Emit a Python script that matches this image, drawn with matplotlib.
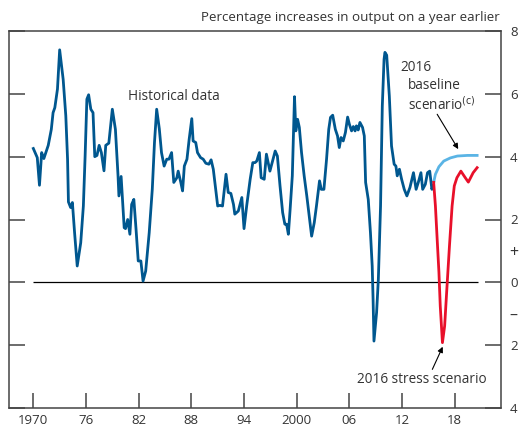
import numpy as np
import matplotlib
matplotlib.use("Agg")
import matplotlib.pyplot as plt
from matplotlib.ticker import FixedLocator, FixedFormatter

# ------------------------------------------
# data
# ------------------------------------------
hist_years = [1970.0, 1970.45, 1970.7, 1970.95, 1971.2, 1971.7, 1972.05, 1972.25, 1972.45, 1972.75,
              1973.0, 1973.4, 1973.7, 1973.9, 1974.0, 1974.25, 1974.45, 1974.7, 1975.0, 1975.4,
              1975.7, 1975.9, 1976.1, 1976.3, 1976.55, 1976.8, 1977.0, 1977.25, 1977.5, 1977.75,
              1978.05, 1978.25, 1978.6, 1979.0, 1979.35, 1979.65, 1979.75, 1980.0, 1980.35, 1980.5,
              1980.75, 1981.0, 1981.2, 1981.45, 1981.7, 1981.95, 1982.25, 1982.5, 1982.8, 1983.2,
              1983.55, 1983.8, 1984.05, 1984.35, 1984.6, 1984.9, 1985.2, 1985.45, 1985.75, 1986.0,
              1986.35, 1986.5, 1986.8, 1987.0, 1987.2, 1987.5, 1987.75, 1988.05, 1988.2, 1988.5,
              1988.7, 1989.05, 1989.35, 1989.65, 1990.0, 1990.25, 1990.5, 1990.75, 1991.0, 1991.25,
              1991.55, 1991.95, 1992.2, 1992.5, 1992.8, 1992.95, 1993.35, 1993.75, 1994.0, 1994.3,
              1994.7, 1995.0, 1995.25, 1995.45, 1995.75, 1995.95, 1996.3, 1996.55, 1996.75, 1996.95,
              1997.25, 1997.55, 1997.8, 1998.1, 1998.4, 1998.65, 1998.85, 1999.05, 1999.25, 1999.5,
              1999.75, 1999.9, 2000.1, 2000.3, 2000.55, 2000.85, 2001.15, 2001.45, 2001.7, 2002.0,
              2002.25, 2002.6, 2002.8, 2003.1, 2003.4, 2003.65, 2003.85, 2004.1, 2004.4, 2004.65,
              2004.85, 2005.05, 2005.3, 2005.55, 2005.8, 2006.0, 2006.25, 2006.45, 2006.65, 2006.8,
              2007.0, 2007.2, 2007.5, 2007.7, 2007.85, 2008.15, 2008.4, 2008.6, 2008.7, 2008.8,
              2009.1, 2009.3, 2009.55, 2009.75, 2009.95, 2010.05, 2010.25, 2010.55, 2010.8, 2011.1,
              2011.3, 2011.45, 2011.7, 2011.95, 2012.25, 2012.55, 2012.9, 2013.3, 2013.6, 2013.85,
              2014.15, 2014.35, 2014.65, 2014.9, 2015.15, 2015.4, 2015.6]
hist_values = [4.26, 3.97, 3.09, 4.13, 3.94, 4.36, 4.87, 5.40, 5.56, 6.15,
               7.40, 6.46, 5.30, 3.92, 2.56, 2.38, 2.54, 1.58, 0.52, 1.26,
               2.43, 4.02, 5.83, 5.97, 5.51, 5.40, 4.00, 4.04, 4.36, 4.13,
               3.55, 4.36, 4.43, 5.51, 4.87, 3.39, 2.75, 3.37, 1.74, 1.71,
               2.00, 1.53, 2.48, 2.64, 1.69, 0.68, 0.68, 0.04, 0.36, 1.58,
               2.96, 4.45, 5.51, 4.89, 4.13, 3.70, 3.92, 3.92, 4.13, 3.18,
               3.33, 3.54, 3.18, 2.91, 3.70, 3.92, 4.55, 5.21, 4.50, 4.45,
               4.13, 3.97, 3.92, 3.79, 3.76, 3.90, 3.60, 3.02, 2.43, 2.45,
               2.43, 3.44, 2.86, 2.83, 2.48, 2.17, 2.27, 2.70, 1.71, 2.43,
               3.28, 3.81, 3.81, 3.86, 4.13, 3.33, 3.28, 4.08, 3.81, 3.54,
               3.86, 4.18, 4.02, 3.07, 2.22, 1.85, 1.85, 1.53, 2.32, 3.39,
               5.91, 4.82, 5.19, 4.93, 4.13, 3.39, 2.75, 2.06, 1.47, 1.90,
               2.43, 3.23, 2.96, 2.96, 3.92, 4.87, 5.25, 5.32, 4.87, 4.66,
               4.29, 4.61, 4.50, 4.77, 5.26, 5.03, 4.82, 4.96, 4.82, 4.98,
               4.85, 5.09, 4.93, 4.66, 3.18, 2.64, 1.58, 0.52, -0.54, -1.87,
               -0.96, 0.10, 2.43, 5.61, 7.10, 7.32, 7.23, 5.93, 4.34, 3.76,
               3.70, 3.39, 3.60, 3.28, 2.96, 2.75, 3.02, 3.49, 2.96, 3.18,
               3.49, 2.96, 3.12, 3.49, 3.54, 2.96, 3.18]

base_years = [2015.6, 2015.8, 2016.2, 2016.75, 2017.5, 2018.3, 2019.45, 2020.55]
base_values = [3.18, 3.44, 3.68, 3.86, 3.96, 4.02, 4.04, 4.04]

stress_years = [2015.6, 2015.8, 2016.0, 2016.2, 2016.35, 2016.6, 2016.85, 2017.1, 2017.4,
                2017.7, 2017.95, 2018.25, 2018.7, 2019.2, 2019.55, 2020.1, 2020.55]
stress_values = [3.18, 2.43, 1.37, 0.32, -0.75, -1.92, -1.39, -0.22, 1.16,
                 2.43, 3.07, 3.33, 3.54, 3.33, 3.19, 3.49, 3.65]

x_ticks = [1970, 1976, 1982, 1988, 1994, 2000, 2006, 2012, 2018]
x_labels = ["1970", "76", "82", "88", "94", "2000", "06", "12", "18"]
y_ticks = [8, 6, 4, 2, 0, -2, -4]
y_labels = ["8", "6", "4", "2", "0", "2", "4"]
sign_ticks = [1, -1]
sign_labels = ["+", "\u2013"]

# ------------------------------------------
# style
# ------------------------------------------
plt.rcParams['font.family'] = ['Open Sans', 'DejaVu Sans']
text_col = '#333333'
frame_col = '#444444'
dark_blue = '#00578f'
light_blue = '#5ab4e5'
red = '#e8102a'

fig = plt.figure(figsize=(5.2, 4.29), dpi=100)
ax = fig.add_axes([9 / 520, 21 / 429, 492 / 520, 377 / 429])

ax.hlines(0, 1970, 2020.6, color='black', lw=0.9, zorder=1)
ax.plot(hist_years, hist_values, color=dark_blue, lw=2.0, zorder=3,
        solid_joinstyle='round')
ax.plot(base_years, base_values, color=light_blue, lw=2.0, zorder=3)
ax.plot(stress_years, stress_values, color=red, lw=2.0, zorder=3)

ax.set_xlim(1967.23, 2023.27)
ax.set_ylim(-4, 8)

for s in ax.spines.values():
    s.set_color(frame_col)
    s.set_linewidth(1.1)

# x axis: ticks pointing inwards from the bottom
ax.xaxis.set_major_locator(FixedLocator(x_ticks))
ax.xaxis.set_major_formatter(FixedFormatter(x_labels))
ax.tick_params(axis='x', direction='in', length=11, width=1.1, color=frame_col,
               labelsize=9.5, labelcolor=text_col, pad=4)

# y axis: labels on the right, tick marks on both sides
ax.yaxis.set_major_locator(FixedLocator(y_ticks))
ax.yaxis.set_major_formatter(FixedFormatter(y_labels))
ax.yaxis.set_minor_locator(FixedLocator(sign_ticks))
ax.yaxis.set_minor_formatter(FixedFormatter(sign_labels))
ax.tick_params(axis='y', which='major', direction='in', length=11.5, width=1.1,
               color=frame_col, left=True, right=True, labelleft=False,
               labelright=True, labelsize=9.5, labelcolor=text_col, pad=6.5)
ax.tick_params(axis='y', which='minor', length=0, left=False, right=True,
               labelleft=False, labelright=True, labelsize=11.5,
               labelcolor=text_col, pad=6)

# title
fig.text(500 / 520, 1 - 17 / 429, "Percentage increases in output on a year earlier",
         ha='right', va='center', fontsize=9.6, color=text_col)

# annotations
ax.text(1980.8, 5.92, "Historical data", fontsize=9.8, color=text_col,
        ha='left', va='center')
ax.text(2011.77, 6.85, "2016", fontsize=9.8, color=text_col, ha='left', va='center')
ax.text(2012.68, 6.25, "baseline", fontsize=9.8, color=text_col, ha='left', va='center')
ax.text(2012.68, 5.66, "scenario$^{\\mathrm{(c)}}$", fontsize=9.8, color=text_col,
        ha='left', va='center')
ax.annotate("", xy=(2018.4, 4.24), xytext=(2016.0, 5.35),
            arrowprops=dict(arrowstyle='-|>', color='black', lw=0.8,
                            mutation_scale=8, shrinkA=0, shrinkB=0))
ax.text(2014.2, -3.09, "2016 stress scenario", fontsize=9.8, color=text_col,
        ha='center', va='center')
ax.annotate("", xy=(2016.63, -2.05), xytext=(2015.45, -2.77),
            arrowprops=dict(arrowstyle='-|>', color='black', lw=0.8,
                            mutation_scale=8, shrinkA=0, shrinkB=0))

fig.savefig("out.png", dpi=100)
